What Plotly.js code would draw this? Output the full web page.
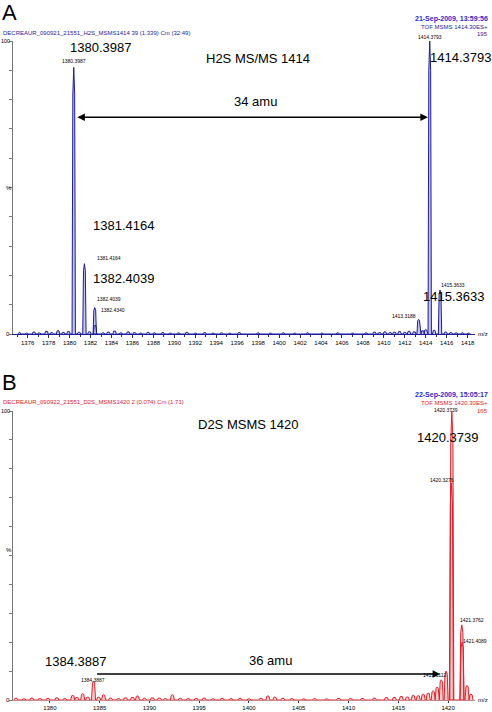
<!DOCTYPE html>
<html>
<head>
<meta charset="utf-8">
<script src="https://cdn.plot.ly/plotly-3.0.1.min.js"></script>
<style>
  body { margin: 0; background: #fff; }
  #chart { width: 492px; height: 712px; }
</style>
</head>
<body>
<div id="chart"></div>
<script>
// --- spectrum A (H2S MS/MS 1414) ---
const peaksA_mz = [1380.3987, 1381.4164, 1382.4039, 1382.4340, 1413.3188, 1414.3793, 1415.3633];
const peaksA_int = [91, 24, 9, 3, 5, 100, 15];
const noiseA_mz = [1375.2, 1375.9, 1376.6, 1377.1, 1377.8, 1378.3, 1378.9, 1379.4, 1379.9, 1380.9, 1381.9,
  1383.2, 1383.7, 1384.3, 1384.9, 1385.6, 1386.2, 1386.8, 1387.5, 1388.1, 1388.9, 1389.6, 1390.4, 1391.2,
  1392.0, 1392.9, 1393.7, 1394.5, 1395.3, 1396.2, 1397.1, 1398.0, 1399.2, 1400.4, 1401.5, 1402.7, 1404.1,
  1405.6, 1407.0, 1408.3, 1409.1, 1409.6, 1410.1, 1410.6, 1411.0, 1411.5, 1412.0, 1412.4, 1412.9, 1413.7,
  1414.0, 1414.8, 1415.9, 1416.4, 1416.9, 1417.5, 1418.1];
const noiseA_int = [0.5, 0.3, 0.7, 0.4, 1.0, 0.5, 1.2, 0.6, 0.9, 0.6, 0.8,
  0.4, 0.7, 1.1, 0.4, 0.8, 0.5, 0.3, 0.6, 0.4, 0.5, 0.3, 0.4, 0.6,
  0.3, 0.5, 0.3, 0.4, 0.3, 0.5, 0.2, 0.4, 0.3, 0.4, 0.3, 0.4, 0.3,
  0.4, 0.3, 0.4, 0.7, 0.5, 0.8, 0.5, 0.7, 0.9, 0.6, 1.0, 0.8, 1.2,
  1.5, 1.3, 0.7, 0.5, 0.4, 0.4, 0.3];

// --- spectrum B (D2S MSMS 1420) ---
const peaksB_mz = [1384.3887, 1419.3112, 1420.3276, 1420.3739, 1421.3762, 1421.4089];
const peaksB_int = [6.5, 7, 75, 100, 26, 20];
const noiseB_mz = [1376.6, 1377.4, 1378.2, 1379.0, 1379.8, 1380.7, 1381.5, 1382.3, 1382.7, 1383.3, 1383.8,
  1384.9, 1385.4, 1386.1, 1386.9, 1387.6, 1388.3, 1388.8, 1389.5, 1390.3, 1391.0, 1391.6, 1392.3, 1393.1,
  1393.9, 1394.7, 1395.5, 1396.4, 1397.3, 1398.2, 1399.1, 1400.0, 1401.2, 1401.9, 1402.6, 1403.4, 1404.3,
  1405.5, 1406.6, 1407.8, 1409.0, 1410.2, 1411.4, 1412.6, 1413.8, 1414.6, 1415.3, 1415.9, 1416.5, 1417.0,
  1417.5, 1418.0, 1418.5, 1418.9, 1419.8, 1421.9, 1422.3];
const noiseB_int = [0.6, 0.4, 0.7, 0.5, 0.6, 0.8, 0.5, 1.6, 0.9, 2.2, 1.0,
  1.0, 1.8, 0.7, 0.5, 0.8, 1.0, 1.4, 0.6, 0.8, 0.7, 0.5, 1.8, 0.6,
  0.5, 0.6, 0.7, 0.4, 0.6, 0.5, 0.6, 0.4, 0.6, 1.4, 1.0, 0.6, 0.5,
  0.4, 0.5, 0.4, 0.6, 0.5, 0.6, 0.7, 0.9, 1.0, 1.3, 1.1, 1.6, 1.5,
  2.0, 2.4, 3.2, 4.5, 10, 5, 2.0];

const ticksA = [1376, 1378, 1380, 1382, 1384, 1386, 1388, 1390, 1392, 1394, 1396, 1398, 1400,
  1402, 1404, 1406, 1408, 1410, 1412, 1414, 1416, 1418];
const ticksB = [1380, 1385, 1390, 1395, 1400, 1405, 1410, 1415, 1420];

// turn a stick list into a narrow profile line
function profile(mzs, ints, halfWidth) {
  const pts = mzs.map((m, i) => [m, ints[i]]).sort((a, b) => a[0] - b[0]);
  const x = [], y = [];
  pts.forEach(([m, h]) => {
    x.push(m - halfWidth, m - halfWidth * 0.55, m, m + halfWidth * 0.55, m + halfWidth);
    y.push(0, h * 0.9, h, h * 0.9, 0);
  });
  return { x, y };
}

const specA = profile(peaksA_mz.concat(noiseA_mz), peaksA_int.concat(noiseA_int), 0.16);
const specB = profile(peaksB_mz.concat(noiseB_mz), peaksB_int.concat(noiseB_int), 0.2);

const W = 492, H = 712;
const px = v => v / W;
const py = v => 1 - v / H;

const blue = '#1c1c9c';
const red = '#e0202a';
const font = 'Liberation Sans, Arial, sans-serif';

const traces = [
  { x: specA.x, y: specA.y, type: 'scatter', mode: 'lines', xaxis: 'x', yaxis: 'y',
    line: { color: blue, width: 1 }, fill: 'tozeroy', fillcolor: 'rgba(150,150,220,0.55)', hoverinfo: 'skip' },
  { x: specB.x, y: specB.y, type: 'scatter', mode: 'lines', xaxis: 'x2', yaxis: 'y2',
    line: { color: red, width: 1 }, fill: 'tozeroy', fillcolor: 'rgba(245,160,160,0.5)', hoverinfo: 'skip' }
];

function txt(x, y, text, size, color, anchor, extra) {
  return Object.assign({ xref: 'paper', yref: 'paper', x: px(x), y: py(y), text: text, showarrow: false,
    xanchor: anchor || 'center', yanchor: 'middle', font: { family: font, size: size, color: color || '#000' } }, extra || {});
}

const annotations = [
  txt(0, 12, 'A', 22, '#000', 'left'),
  txt(1, 33, 'DECREAUR_090921_21551_H2S_MSMS1414 39 (1.339) Cm (32:49)', 6, blue, 'left'),
  txt(490, 19, '<b>21-Sep-2009, 13:59:56</b>', 7, '#2a2ad0', 'right'),
  txt(490, 27, 'TOF MSMS 1414.30ES+', 6, blue, 'right'),
  txt(490, 34, '195', 6, blue, 'right'),
  txt(12, 41, '100', 5.5, '#000', 'right'),
  txt(12, 334, '0', 6, '#000', 'right'),
  txt(9, 188, '%', 6, '#000', 'center'),
  txt(483, 334, 'm/z', 6, '#000', 'center'),
  txt(100, 48, '1380.3987', 13, '#000'),
  txt(74, 61, '1380.3987', 5, '#000'),
  txt(258, 58, 'H2S MS/MS 1414', 13, '#000'),
  txt(255, 102, '34 amu', 13, '#000'),
  txt(460, 57, '1414.3793', 13, '#000'),
  txt(430, 37, '1414.3793', 5, '#000'),
  txt(123, 226, '1381.4164', 13, '#000'),
  txt(95, 258, '1381.4164', 5, '#000', 'left'),
  txt(123, 279, '1382.4039', 13, '#000'),
  txt(95, 299, '1382.4039', 5, '#000', 'left'),
  txt(99, 310, '1382.4340', 5, '#000', 'left'),
  txt(453, 296, '1415.3633', 13, '#000'),
  txt(453, 285, '1415.3633', 5, '#000'),
  txt(404, 316, '1413.3188', 5, '#000'),
  { xref: 'x', yref: 'y', axref: 'x', ayref: 'y', x: 1414.2, y: 74, ax: 1380.6, ay: 74, text: '',
    showarrow: true, arrowhead: 2, startarrowhead: 2, arrowside: 'end+start', arrowsize: 1, arrowwidth: 1.5, arrowcolor: '#000' },

  txt(0, 383, 'B', 22, '#000', 'left'),
  txt(1, 402, 'DECREAUR_090922_21551_D2S_MSMS1420 2 (0.074) Cm (1:71)', 6, red, 'left'),
  txt(490, 395, '<b>22-Sep-2009, 15:05:17</b>', 7, '#2a2ad0', 'right'),
  txt(490, 403, 'TOF MSMS 1420.30ES+', 6, red, 'right'),
  txt(490, 411, '165', 6, red, 'right'),
  txt(12, 411, '100', 5.5, '#000', 'right'),
  txt(12, 700, '0', 6, '#000', 'right'),
  txt(9, 550, '%', 6, '#000', 'center'),
  txt(483, 700, 'm/z', 6, '#000', 'center'),
  txt(248, 424, 'D2S MSMS 1420', 13, '#000'),
  txt(447, 437, '1420.3739', 13, '#000'),
  txt(446, 410, '1420.3739', 5, '#000'),
  txt(442, 480, '1420.3276', 5, '#000'),
  txt(472, 620, '1421.3762', 5, '#000'),
  txt(475, 641, '1421.4089', 5, '#000'),
  txt(434, 675, '1419.3112', 5, '#000'),
  txt(75, 661, '1384.3887', 13, '#000'),
  txt(93, 680, '1384.3887', 5, '#000'),
  txt(270, 660, '36 amu', 13, '#000'),
  { xref: 'x2', yref: 'y2', axref: 'x2', ayref: 'y2', x: 1419.2, y: 9, ax: 1384.6, ay: 9, text: '',
    showarrow: true, arrowhead: 2, arrowsize: 1, arrowwidth: 1.5, arrowcolor: '#000' }
];

const xCommon = {
  showgrid: false, zeroline: false, showline: true, linewidth: 1,
  ticks: 'outside', ticklen: 3, tickwidth: 1, tickcolor: '#333',
  tickfont: { family: font, size: 6, color: '#000' }, fixedrange: true
};
const yCommon = {
  showgrid: false, zeroline: false, showline: true, linecolor: '#777', linewidth: 1,
  range: [0, 100], tickvals: [], ticks: 'outside', ticklen: 3, tickcolor: '#777',
  minor: { dtick: 10, tick0: 0, ticks: 'outside', ticklen: 3, tickcolor: '#777' }, fixedrange: true
};

const layout = {
  width: W, height: H,
  margin: { l: 0, r: 0, t: 0, b: 0 },
  paper_bgcolor: '#fff', plot_bgcolor: '#fff',
  showlegend: false,
  xaxis: Object.assign({}, xCommon, {
    domain: [px(13), px(475)], range: [1374.6, 1418.7], anchor: 'y',
    tickvals: ticksA, linecolor: blue,
    minor: { dtick: 1, ticks: 'outside', ticklen: 2, tickcolor: '#333' }
  }),
  yaxis: Object.assign({}, yCommon, { domain: [py(334), py(41)], anchor: 'x' }),
  xaxis2: Object.assign({}, xCommon, {
    domain: [px(13), px(475)], range: [1376.3, 1422.7], anchor: 'y2',
    tickvals: ticksB, linecolor: '#c88', ticklen: 2
  }),
  yaxis2: Object.assign({}, yCommon, { domain: [py(700), py(411)], anchor: 'x2' }),
  annotations: annotations
};

Plotly.newPlot('chart', traces, layout, { staticPlot: true });
</script>
</body>
</html>
